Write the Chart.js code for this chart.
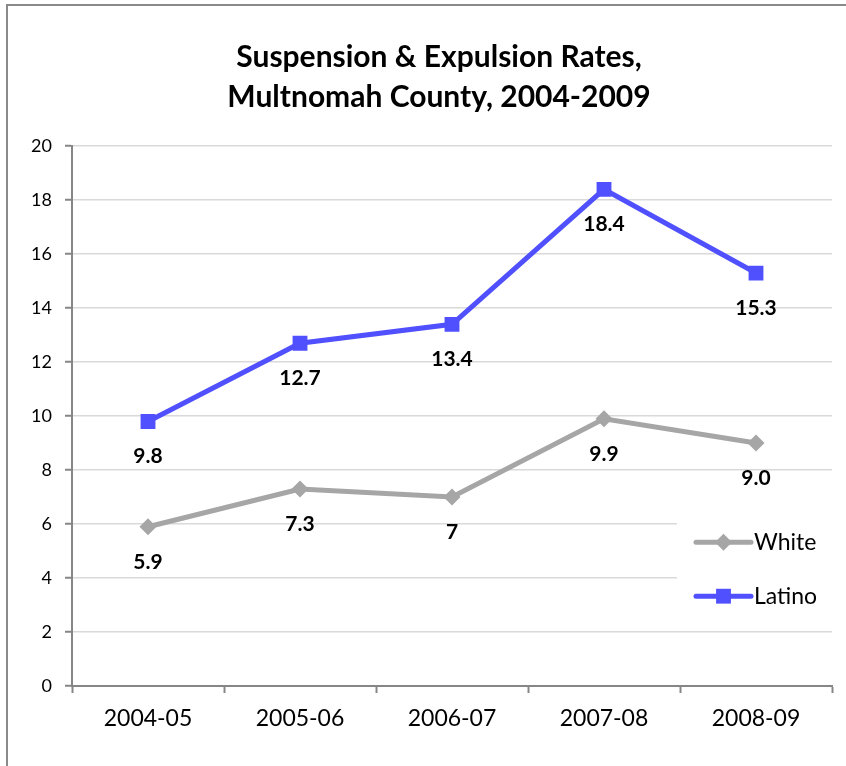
<!DOCTYPE html>
<html>
<head>
<meta charset="utf-8">
<script src="https://cdn.jsdelivr.net/npm/chart.js@4/dist/chart.umd.min.js"></script>
<style>
html,body{margin:0;padding:0;background:#fff;overflow:hidden;width:846px;height:766px;}
#wrap{position:absolute;left:0;top:0;width:872px;height:766px;}
</style>
</head>
<body>
<div id="wrap"><canvas id="c" width="872" height="766"></canvas></div>
<script>
const categories = ['2004-05', '2005-06', '2006-07', '2007-08', '2008-09'];
const whiteValues = [5.9, 7.3, 7.0, 9.9, 9.0];
const latinoValues = [9.8, 12.7, 13.4, 18.4, 15.3];
const whiteLabels = ['5.9', '7.3', '7', '9.9', '9.0'];
const latinoLabels = ['9.8', '12.7', '13.4', '18.4', '15.3'];
const seriesNames = ['White', 'Latino'];
const titleLines = ['Suspension & Expulsion Rates,', 'Multnomah County, 2004-2009'];

const FONT = 'Lato, "Open Sans", sans-serif';
const WHITE_COLOR = '#A6A6A6';
const LATINO_COLOR = '#5050FF';
const AXIS_COLOR = '#868686';

function drawMarker(ctx, style, x, y, r, color) {
  ctx.save();
  ctx.fillStyle = color;
  ctx.beginPath();
  if (style === 'rectRot') {
    ctx.moveTo(x, y - r); ctx.lineTo(x + r, y); ctx.lineTo(x, y + r); ctx.lineTo(x - r, y);
  } else {
    const s = r * Math.SQRT1_2;
    ctx.rect(x - s, y - s, 2 * s, 2 * s);
  }
  ctx.closePath();
  ctx.fill();
  ctx.restore();
}

const framePlugin = {
  id: 'frame',
  afterLayout(chart) {
    // the original chart's frame extends past the right edge, so its title is centred to the right
    if (chart.titleBlock) {
      chart.titleBlock.left += 20;
      chart.titleBlock.right += 20;
    }
  },
  beforeDraw(chart) {
    const ctx = chart.ctx;
    ctx.save();
    ctx.strokeStyle = '#8a8a8a';
    ctx.lineWidth = 2;
    ctx.beginPath();
    ctx.moveTo(7, chart.height + 5);
    ctx.lineTo(7, 5);
    ctx.lineTo(chart.width + 5, 5);
    ctx.stroke();
    ctx.restore();
  }
};

const labelsPlugin = {
  id: 'pointLabels',
  afterDatasetsDraw(chart) {
    const ctx = chart.ctx;
    const texts = [whiteLabels, latinoLabels];
    ctx.save();
    ctx.font = 'bold 21px ' + FONT;
    ctx.fillStyle = '#000';
    ctx.textAlign = 'center';
    ctx.textBaseline = 'middle';
    chart.data.datasets.forEach((ds, i) => {
      const meta = chart.getDatasetMeta(i);
      meta.data.forEach((pt, j) => {
        ctx.fillText(texts[i][j], pt.x, pt.y + 35);
      });
    });
    ctx.restore();
  }
};

const legendPlugin = {
  id: 'customLegend',
  afterDraw(chart) {
    const ctx = chart.ctx;
    const a = chart.chartArea;
    ctx.save();
    ctx.fillStyle = '#fff';
    ctx.fillRect(a.right - 155, a.top + 360, 160, 108);
    chart.data.datasets.forEach((ds, i) => {
      const y = a.top + 396 + i * 54;
      const x0 = a.right - 136, x1 = a.right - 81;
      ctx.strokeStyle = ds.borderColor;
      ctx.lineWidth = ds.borderWidth;
      ctx.lineCap = 'round';
      ctx.beginPath(); ctx.moveTo(x0, y); ctx.lineTo(x1, y); ctx.stroke();
      drawMarker(ctx, ds.pointStyle, (x0 + x1) / 2, y, ds.pointRadius, ds.borderColor);
      ctx.fillStyle = '#000';
      ctx.font = '23px ' + FONT;
      ctx.textAlign = 'left';
      ctx.textBaseline = 'middle';
      ctx.fillText(ds.label, x1 + 3, y);
    });
    ctx.restore();
  }
};

new Chart(document.getElementById('c'), {
  type: 'line',
  data: {
    labels: categories,
    datasets: [
      {
        label: seriesNames[0], data: whiteValues,
        borderColor: WHITE_COLOR, backgroundColor: WHITE_COLOR,
        borderWidth: 5, pointStyle: 'rectRot', pointRadius: 8.5,
        pointBorderWidth: 0, tension: 0
      },
      {
        label: seriesNames[1], data: latinoValues,
        borderColor: LATINO_COLOR, backgroundColor: LATINO_COLOR,
        borderWidth: 5, pointStyle: 'rect', pointRadius: 10.5,
        pointBorderWidth: 0, tension: 0
      }
    ]
  },
  options: {
    responsive: false,
    animation: false,
    devicePixelRatio: 1,
    events: [],
    layout: { padding: { left: 6, right: 40, top: 0, bottom: 0 } },
    plugins: {
      legend: { display: false },
      tooltip: { enabled: false },
      title: {
        display: true,
        text: titleLines,
        color: '#000',
        font: { family: FONT, size: 30, weight: 'bold', lineHeight: 1.32 },
        padding: { top: 38, bottom: 29 }
      }
    },
    scales: {
      x: {
        offset: true,
        grid: { offset: true, drawOnChartArea: false, drawTicks: true, tickLength: 7, tickColor: AXIS_COLOR, tickWidth: 2 },
        border: { color: AXIS_COLOR, width: 2 },
        ticks: { color: '#000', font: { family: FONT, size: 23 }, padding: 12, maxRotation: 0 },
        afterFit(scale) { scale.height = 80; }
      },
      y: {
        min: 0, max: 20,
        grid: { color: '#D9D9D9', lineWidth: 1.5, drawTicks: true, tickLength: 7, tickColor: AXIS_COLOR, tickWidth: 2 },
        border: { color: AXIS_COLOR, width: 2 },
        ticks: { stepSize: 2, color: '#000', font: { family: FONT, size: 18 }, padding: 13 },
        afterFit(scale) { scale.width = 66; }
      }
    }
  },
  plugins: [framePlugin, labelsPlugin, legendPlugin]
});
</script>
</body>
</html>
